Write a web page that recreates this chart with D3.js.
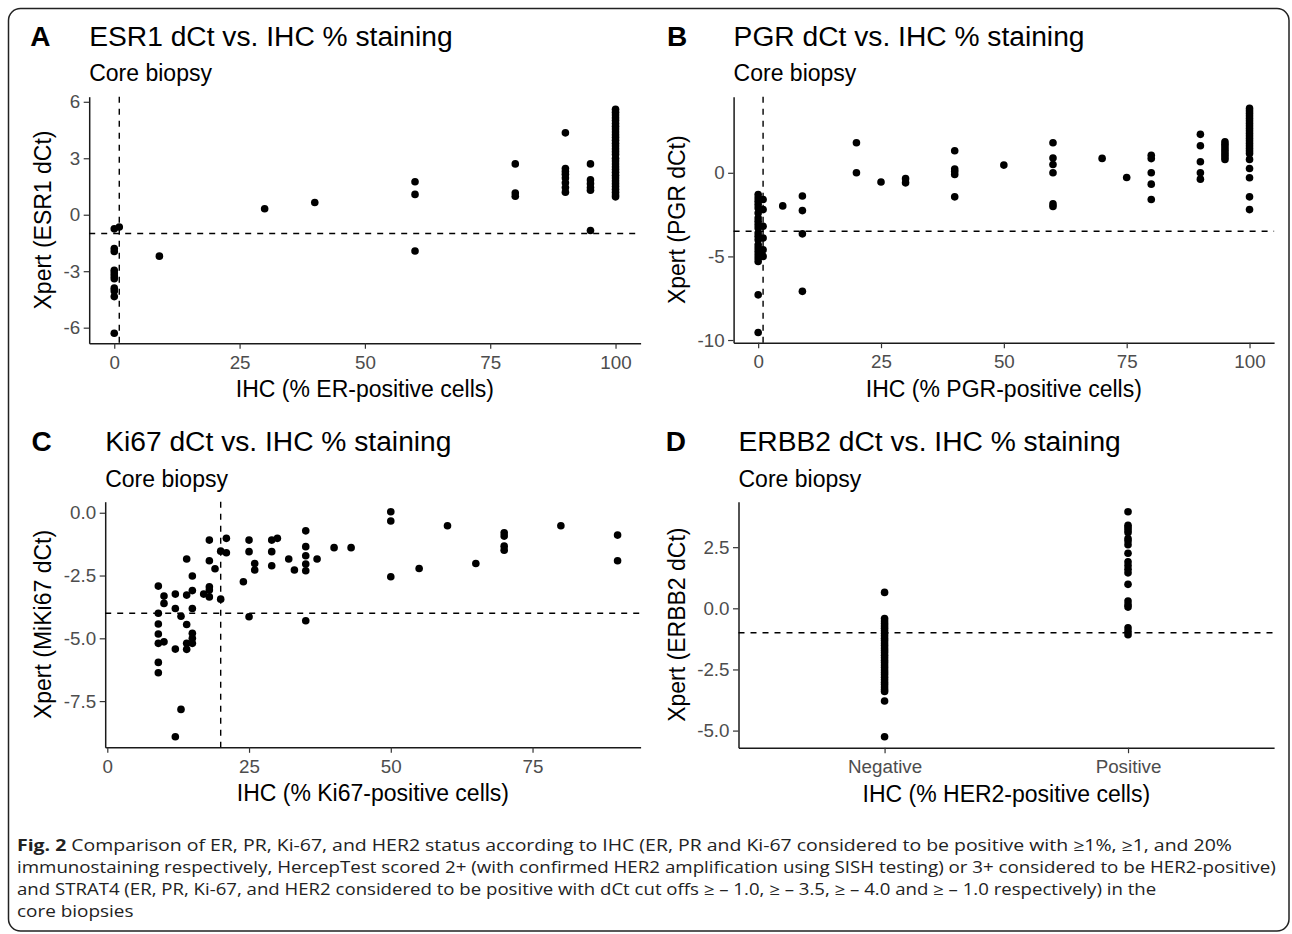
<!DOCTYPE html>
<html><head><meta charset="utf-8">
<script src="https://cdn.jsdelivr.net/npm/d3@7"></script>
<style>body{margin:0;background:#fff}</style>
</head><body>
<svg id="c" width="1292" height="934"></svg>
<script>
// ---------------- DATA ----------------
// Panel A: ESR1 dCt vs IHC % ER-positive cells
const erIHC = [0,0,0,0,0,0,0,0,0,0,0, 1, 9, 30, 40, 60,60,60, 80,80,80,
  90,90,90,90,90,90,90,90, 95,95,95,95,95,95,
  100,100,100,100,100,100,100,100,100,100,100,100,100,100,100,100,
  100,100,100,100,100,100,100,100,100,100,100,100,100,100,100,100];
const erDct = [-0.75,-1.8,-1.95,-2.95,-3.1,-3.25,-3.4,-3.9,-4.05,-4.35,-6.3, -0.65, -2.2, 0.32, 0.65, 1.75,1.08,-1.93, 2.7,1.15,0.98,
  4.35,2.45,2.3,2.15,1.95,1.7,1.45,1.2, 2.7,1.85,1.65,1.45,1.3,-0.84,
  5.6,5.45,5.3,5.15,5.0,4.85,4.7,4.55,4.4,4.25,4.1,3.95,3.8,3.65,3.5,3.35,
  3.2,3.0,2.85,2.7,2.55,2.4,2.25,2.1,1.95,1.8,1.65,1.5,1.35,1.2,1.05,0.95];

// Panel B: PGR dCt vs IHC % PGR-positive cells
const pgrIHC = [0,0,0,0,0,0,0,0,0,0,0,0,0,0,0,0,0,0,0,0,0, 1,1,1,1,1,1, 5, 9,9,9,9, 20,20, 25, 30,30,
  40,40,40,40,40, 50, 60,60,60,60,60,60, 70, 75, 80,80,80,80,80, 90,90,90,90,90,
  95,95,95,95,95,95,95,95,
  100,100,100,100,100,100,100,100,100,100,100,100,100,100,100,100,100,100,100,100,100,100,100,100];
const pgrDct = [-1.3,-1.5,-1.7,-1.9,-2.1,-2.4,-2.7,-2.9,-3.1,-3.3,-3.6,-3.8,-4.0,-4.3,-4.5,-4.7,-4.9,-5.1,-5.3,-7.3,-9.55,
  -1.6,-2.2,-3.2,-3.9,-4.6,-5.0, -1.98, -1.39,-2.26,-3.65,-7.09, 1.8,0.0, -0.55, -0.35,-0.6,
  1.32,0.22,0.08,-0.1,-1.44, 0.46, 1.8,0.88,0.5,0.0,-1.86,-2.02, 0.86, -0.28, 1.05,0.85,0.0,-0.68,-1.6, 2.3,1.62,0.66,0.0,-0.38,
  1.85,1.7,1.55,1.4,1.25,1.1,0.95,0.8,
  3.85,3.7,3.55,3.4,3.25,3.1,2.95,2.8,2.65,2.5,2.35,2.2,2.05,1.9,1.75,1.6,1.45,1.3,1.16,0.8,0.26,-0.3,-1.44,-2.2];

// Panel C: MiKi67 dCt vs IHC % Ki67-positive cells
const kiIHC = [9,9,9,9,9,9,9, 10,10,10, 12,12,12,12, 13,13, 14,14,14,14,14, 15,15,15,15,15,15, 17,
  18,18,18,18,18, 19, 20,20, 21,21, 24, 25,25,25, 26,26, 29,29,29, 30, 32, 33,
  35,35,35,35,35,35, 37, 40, 43, 50,50,50, 55, 60, 65, 70,70,70,70, 80, 90,90];
const kiDct = [-2.92,-4.0,-4.43,-4.83,-5.2,-5.96,-6.37, -3.32,-3.61,-5.14, -3.24,-3.81,-5.43,-8.92, -4.12,-7.83,
  -1.84,-3.28,-4.45,-5.2,-5.44, -2.52,-3.1,-3.81,-4.8,-5.0,-5.2, -3.24,
  -1.09,-1.91,-2.95,-3.08,-3.35, -2.23, -1.53,-3.44, -1.02,-1.59, -2.75, -1.09,-1.55,-4.14, -2.02,-2.28,
  -1.09,-1.55,-2.11, -1.02, -1.84, -2.28, -0.72,-1.35,-1.71,-2.04,-2.31,-4.3, -1.84, -1.39, -1.39,
  0.04,-0.33,-2.55, -2.22, -0.52, -2.02, -0.8,-0.93,-1.33,-1.49, -0.52, -0.89,-1.91];

// Panel D: ERBB2 dCt by IHC HER2 status
const her2Cats = ["Negative", "Positive"];
const her2NegDct = [0.65,-0.42,-0.52,-0.62,-0.72,-0.82,-0.92,-1.02,-1.12,-1.22,-1.32,-1.42,-1.52,-1.62,-1.72,-1.82,
  -1.92,-2.02,-2.12,-2.22,-2.32,-2.42,-2.52,-2.62,-2.72,-2.82,-2.92,-3.02,-3.12,-3.22,-3.32,-3.4,-3.79,-5.25];
const her2PosDct = [3.95,3.4,3.3,3.2,3.1,2.85,2.75,2.6,2.25,1.9,1.75,1.6,1.45,0.98,0.3,0.15,0.05,-0.8,-0.95,-1.08];

// Tick labels / cut-offs
const erTicksX = [0,25,50,75,100], erTicksY = [-6,-3,0,3,6];
const pgrTicksX = [0,25,50,75,100], pgrTicksY = [-10,-5,0];
const kiTicksX = [0,25,50,75], kiTicksY = [-7.5,-5,-2.5,0];
const her2TicksY = [-5,-2.5,0,2.5];
const cutoffs = {er:-1.0, pgr:-3.5, ki:-4.0, her2:-1.0};
const ihcCut = {er:1, pgr:1, ki:20};

const captionLines = [
  ["Fig. 2", " Comparison of ER, PR, Ki-67, and HER2 status according to IHC (ER, PR and Ki-67 considered to be positive with \u22651%, \u22651, and 20%"],
  ["", "immunostaining respectively, HercepTest scored 2+ (with confirmed HER2 amplification using SISH testing) or 3+ considered to be HER2-positive)"],
  ["", "and STRAT4 (ER, PR, Ki-67, and HER2 considered to be positive with dCt cut offs \u2265 \u2013 1.0, \u2265 \u2013 3.5, \u2265 \u2013 4.0 and \u2265 \u2013 1.0 respectively) in the"],
  ["", "core biopsies"]
];

// ---------------- DRAW ----------------
const FONT = "'Liberation Sans', Arial, Helvetica, sans-serif";
const svg = d3.select('#c');
svg.append('rect').attr('width',1292).attr('height',934).attr('fill','#fff');
svg.append('rect').attr('x',8.5).attr('y',8.5).attr('width',1280.5).attr('height',922.5)
  .attr('rx',12).attr('fill','none').attr('stroke','#222').attr('stroke-width',1.5);

function txt(g, x, y, s, o) {
  return g.append('text')
    .attr('transform', `translate(${x},${y})` + (o.rot ? ` rotate(${o.rot})` : ''))
    .attr('text-anchor', o.anchor || 'start')
    .attr('font-size', o.size)
    .attr('font-weight', o.weight || 'normal')
    .attr('fill', o.fill || '#000')
    .attr('font-family', o.family || FONT)
    .text(s);
}
const hy = f => (d => f(d).replace('\u2212', '-'));

function panel(cfg) {
  const g = svg.append('g');
  const y = d3.scaleLinear().domain(cfg.ydom).range([cfg.y1, cfg.y0]);
  const x = cfg.x;
  const ya = g.append('g').attr('transform', `translate(${cfg.x0},0)`)
    .call(d3.axisLeft(y).tickValues(cfg.yticks).tickFormat(hy(cfg.yfmt)).tickSize(5.5).tickPadding(3.5).tickSizeOuter(0));
  const xa = g.append('g').attr('transform', `translate(0,${cfg.y1})`)
    .call(d3.axisBottom(x).tickValues(cfg.xticks).tickSize(5.5).tickPadding(6.5).tickSizeOuter(0));
  [ya, xa].forEach(a => {
    a.attr('color', '#1a1a1a');
    a.select('.domain').attr('stroke-width', 1.5);
    a.selectAll('.tick line').attr('stroke', '#333').attr('stroke-width', 1.2);
    a.selectAll('.tick text').attr('font-size', 18.8).attr('font-family', FONT).attr('fill', '#4d4d4d');
  });
  g.append('g').selectAll('circle').data(cfg.pts).join('circle')
    .attr('cx', d => x(d[0])).attr('cy', d => y(d[1])).attr('r', 3.8).attr('fill', '#000');
  g.append('line').attr('x1', cfg.x0).attr('x2', cfg.x1).attr('y1', y(cfg.hline)).attr('y2', y(cfg.hline))
    .attr('stroke', '#000').attr('stroke-width', 1.4).attr('stroke-dasharray', '6,6');
  if (cfg.vline !== undefined) {
    g.append('line').attr('x1', x(cfg.vline)).attr('x2', x(cfg.vline)).attr('y1', cfg.y0).attr('y2', cfg.y1)
      .attr('stroke', '#000').attr('stroke-width', 1.4).attr('stroke-dasharray', '6,6');
  }
  txt(g, cfg.letterX, cfg.titleY, cfg.letter, {size: 28, weight: 'bold'});
  txt(g, cfg.x0, cfg.titleY, cfg.title, {size: 28.2});
  txt(g, cfg.x0, cfg.titleY + 35.5, 'Core biopsy', {size: 23});
  txt(g, (cfg.x0 + cfg.x1) / 2, cfg.y1 + 54, cfg.xlab, {size: 23, anchor: 'middle'});
  txt(g, cfg.ytX, (cfg.y0 + cfg.y1) / 2, cfg.ylab, {size: 23, anchor: 'middle', rot: -90});
}

const zip = (a, b) => a.map((v, i) => [v, b[i]]);

panel({
  x0: 89.2, x1: 640.6, y0: 96.7, y1: 343.3,
  x: d3.scaleLinear().domain([-5, 105]).range([89.2, 640.6]),
  ydom: [-6.83, 6.27], yticks: erTicksY, yfmt: d3.format('d'), xticks: erTicksX,
  pts: zip(erIHC, erDct), hline: cutoffs.er, vline: ihcCut.er,
  letter: 'A', letterX: 30.3, titleY: 45.7, title: 'ESR1 dCt vs. IHC % staining',
  xlab: 'IHC (% ER-positive cells)', ylab: 'Xpert (ESR1 dCt)', ytX: 51
});
panel({
  x0: 733.6, x1: 1274.1, y0: 96.7, y1: 342.7,
  x: d3.scaleLinear().domain([-5, 105]).range([733.6, 1274.1]),
  ydom: [-10.16, 4.55], yticks: pgrTicksY, yfmt: d3.format('d'), xticks: pgrTicksX,
  pts: zip(pgrIHC, pgrDct), hline: cutoffs.pgr, vline: ihcCut.pgr,
  letter: 'B', letterX: 667, titleY: 45.7, title: 'PGR dCt vs. IHC % staining',
  xlab: 'IHC (% PGR-positive cells)', ylab: 'Xpert (PGR dCt)', ytX: 685
});
panel({
  x0: 105.2, x1: 640.6, y0: 501.7, y1: 747.3,
  x: d3.scaleLinear().domain([-0.37, 94.06]).range([105.2, 640.6]),
  ydom: [-9.34, 0.44], yticks: kiTicksY, yfmt: d3.format('.1f'), xticks: kiTicksX,
  pts: zip(kiIHC, kiDct), hline: cutoffs.ki, vline: ihcCut.ki,
  letter: 'C', letterX: 31.6, titleY: 451, title: 'Ki67 dCt vs. IHC % staining',
  xlab: 'IHC (% Ki67-positive cells)', ylab: 'Xpert (MiKi67 dCt)', ytX: 51
});
const dPts = her2NegDct.map(v => [her2Cats[0], v]).concat(her2PosDct.map(v => [her2Cats[1], v]));
panel({
  x0: 738.5, x1: 1274.1, y0: 501.7, y1: 747.7,
  x: d3.scalePoint().domain(her2Cats).range([738.5, 1274.1]).padding(0.6),
  ydom: [-5.70, 4.36], yticks: her2TicksY, yfmt: d3.format('.1f'), xticks: her2Cats,
  pts: dPts, hline: cutoffs.her2,
  letter: 'D', letterX: 665.8, titleY: 451, title: 'ERBB2 dCt vs. IHC % staining',
  xlab: 'IHC (% HER2-positive cells)', ylab: 'Xpert (ERBB2 dCt)', ytX: 685
});

// Caption
const capTargets = [1216, 1260, 1140, null];
const capBase = [851, 873, 895, 917];
let factors = [];
captionLines.forEach((ln, i) => {
  const g = svg.append('g');
  const t = g.append('text').attr('font-family', "'Open Sans', 'Noto Sans', sans-serif").attr('font-size', 16).attr('fill', '#222');
  if (ln[0]) t.append('tspan').attr('font-weight', 'bold').text(ln[0]);
  t.append('tspan').text(ln[1]);
  const w = t.node().getComputedTextLength();
  let f = capTargets[i] ? capTargets[i] / w : d3.mean(factors);
  if (capTargets[i]) factors.push(f);
  g.attr('transform', `translate(17,${capBase[i]}) scale(${f},1)`);
});
</script>
</body></html>
